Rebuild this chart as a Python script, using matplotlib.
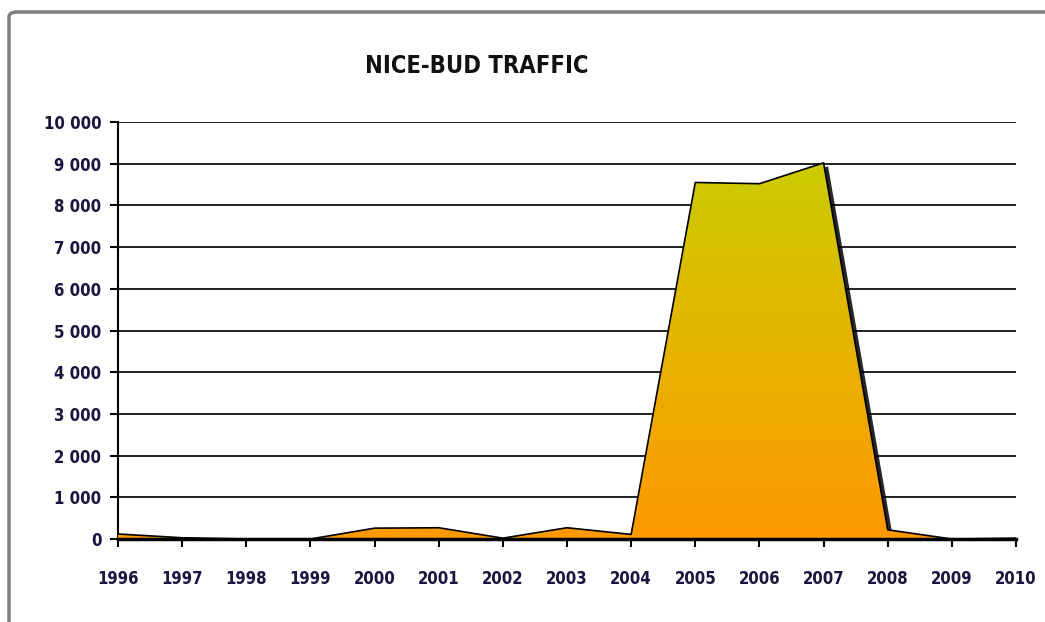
import matplotlib
matplotlib.use("Agg")
import matplotlib.pyplot as plt
import matplotlib.transforms as mtransforms
from matplotlib.colors import LinearSegmentedColormap
from matplotlib.patches import FancyBboxPatch
import numpy as np

years = list(range(1996, 2011))
traffic = [120, 30, 0, 0, 260, 270, 20, 270, 110, 8550, 8520, 9020, 220, 0, 20]
yticks = list(range(0, 10001, 1000))
ytick_labels = ["0", "1 000", "2 000", "3 000", "4 000", "5 000",
                "6 000", "7 000", "8 000", "9 000", "10 000"]

plt.rcParams['font.family'] = ['DejaVu Sans']
plt.rcParams['font.stretch'] = 'condensed'
label_color = '#1c1440'

fig = plt.figure(figsize=(10.45, 6.22), dpi=100)
ax = fig.add_axes([118 / 1045, 1 - 539 / 622, 898 / 1045, 417 / 622])

# outer chart frame (bottom and right run off the canvas)
frame = FancyBboxPatch((9 / 1045, -0.2), 1.2, 1.2 - 12 / 622,
                       boxstyle="round,pad=0,rounding_size=0.008",
                       transform=fig.transFigure, fill=False,
                       edgecolor='#808080', linewidth=2.5, clip_on=False)
fig.patches.append(frame)

# grid lines
for v in yticks[1:]:
    ax.axhline(v, color='#202020', linewidth=1.4, zorder=1)

# shadow
shadow_tr = mtransforms.offset_copy(ax.transData, fig=fig, x=4, y=-3, units='dots')
ax.fill_between(years, traffic, 0, color='black', alpha=0.85,
                transform=shadow_tr, zorder=2, linewidth=0)

# gradient area
poly = ax.fill_between(years, traffic, 0, facecolor='none', edgecolor='none', zorder=3)
cmap = LinearSegmentedColormap.from_list('g', ['#ff9900', '#cccc00'])
grad = np.linspace(0, 1, 256).reshape(-1, 1)
img = ax.imshow(grad, cmap=cmap, aspect='auto', origin='lower',
                extent=[years[0], years[-1], 0, max(traffic)], zorder=3)
img.set_clip_path(poly.get_paths()[0], transform=ax.transData)
ax.plot(years, traffic, color='black', linewidth=1.2, zorder=4)

ax.set_xlim(years[0], years[-1])
ax.set_ylim(0, 10000)
ax.set_xticks(years)
ax.set_xticklabels([str(y) for y in years], fontsize=12, fontweight='semibold',
                   color=label_color)
ax.set_yticks(yticks)
ax.set_yticklabels(ytick_labels, fontsize=12, fontweight='semibold', color=label_color)
ax.tick_params(axis='both', direction='out', length=6, width=1.5, color='black')
ax.tick_params(axis='x', pad=16)
ax.tick_params(axis='y', pad=6)

for s in ['top', 'right']:
    ax.spines[s].set_visible(False)
ax.spines['left'].set_linewidth(1.5)
ax.spines['bottom'].set_linewidth(2.5)
ax.spines['bottom'].set_zorder(5)

fig.text(477 / 1045, 1 - 66 / 622, 'NICE-BUD TRAFFIC', ha='center', va='center',
         fontsize=17, fontweight='bold', color='#111111')

fig.savefig('out.png', dpi=100)
